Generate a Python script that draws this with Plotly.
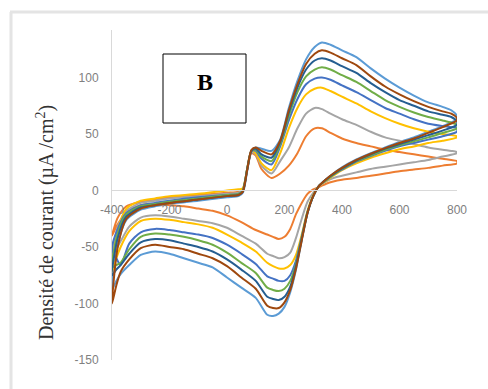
import plotly.graph_objects as go

# Potential grids (mV)
E_fwd = [-400, -380, -350, -300, -250, -200, -100, 0, 40, 55, 70, 85, 100, 120, 155, 185,
         215, 245, 275, 305, 330, 360, 400, 450, 500, 550, 600, 650, 700, 750, 780, 800]
E_rev = [800, 750, 700, 650, 600, 550, 500, 450, 400, 370, 345, 320, 300, 280, 260, 240, 220,
         200, 180, 160, 140, 100, 50, 0, -50, -100, -150, -200, -250, -300, -340, -370, -385, -400]

# Current density (µA/cm²), forward (anodic) sweep
fwd_lightblue = [-88, -48, -26, -17, -14, -12, -9, -6, -5, -2, 17, 35, 38, 37, 35, 45,
                 73, 97, 116, 127, 131, 129, 124, 118, 108, 99, 91, 84, 78, 74, 71, 66]
fwd_orange = [-40, -24, -14, -10, -8, -6, -4, -2, -1, 1, 18, 33, 31, 19, 11, 15,
              22, 33, 48, 55, 55, 51, 46, 42, 39, 36, 34, 32, 30, 28, 27, 26]
fwd_gray = [-60, -32, -18, -11, -9, -7, -5, -3, -2, 0, 18, 34, 32, 22, 15, 26,
            38, 55, 68, 73, 72, 68, 63, 58, 52, 47, 44, 41, 38, 36, 35, 34]
fwd_yellow = [-72, -35, -16, -9, -7, -5, -3, 0, 1, 2, 19, 35, 33, 24, 18, 33,
              55, 73, 85, 90, 91, 88, 83, 77, 70, 64, 59, 55, 52, 50, 49, 48]
fwd_blue = [-52, -34, -20, -13, -11, -9, -6, -4, -3, 0, 19, 35, 35, 28, 23, 39,
            62, 81, 94, 99, 100, 98, 93, 87, 80, 73, 68, 63, 59, 57, 56, 55]
fwd_green = [-68, -38, -21, -14, -12, -10, -7, -4, -3, 0, 19, 35, 36, 30, 26, 41,
             66, 87, 101, 107, 109, 107, 102, 96, 88, 80, 74, 69, 65, 62, 60, 58]
fwd_darkblue = [-75, -42, -23, -15, -13, -11, -8, -5, -4, -1, 18, 35, 37, 32, 29, 43,
                69, 91, 107, 115, 117, 115, 110, 104, 95, 87, 80, 75, 70, 67, 65, 61]
fwd_brown = [-100, -50, -25, -16, -13, -11, -8, -5, -4, -1, 18, 36, 38, 35, 32, 44,
             71, 94, 112, 121, 124, 122, 117, 111, 101, 92, 85, 79, 74, 70, 68, 64]

# Current density (µA/cm²), reverse (cathodic) sweep
rev_lightblue = [63, 57, 52, 47, 43, 38, 33, 27.5, 20.5, 15, 10, 4, -5, -20, -44, -70, -90,
                 -103, -109, -111, -110, -95, -86, -77, -68, -64, -60, -56, -54, -57, -66, -74, -80, -88]
rev_orange = [24, 22, 20, 18.5, 17, 15, 13, 11, 9.5, 8, 6, 3, 1, -3, -11, -21, -34,
              -41, -43, -41, -39, -35, -28, -22, -18, -16, -14, -13, -12, -13, -18, -26, -32, -40]
rev_gray = [33, 30, 27, 25, 23, 21, 19, 16, 13, 11, 8, 4, -2, -10, -25, -42, -55,
            -59, -60, -58, -56, -47, -40, -33, -29, -27, -25, -23, -22, -24, -32, -45, -52, -60]
rev_yellow = [47, 44, 42, 39, 36.5, 33, 29, 24, 18, 13, 8.5, 4, -4, -18, -39, -57, -66,
              -69, -69, -67, -64, -54, -46, -39, -33, -30, -28, -26, -25, -27, -36, -50, -60, -72]
rev_blue = [52, 48, 45, 42, 39, 35, 30.5, 25.5, 18.5, 14, 9, 4, -5, -19, -41, -62, -75,
            -80, -80, -78, -76, -65, -56, -48, -42, -39, -37, -35, -34, -37, -47, -66, -60, -52]
rev_green = [55, 51, 47, 43.5, 40, 36, 31, 26, 19, 14, 9.5, 4, -5, -19, -42, -65, -80,
             -87, -89, -88, -86, -73, -64, -55, -48, -44, -41, -39, -38, -41, -52, -64, -66, -68]
rev_darkblue = [58, 53, 49, 45, 41, 37, 32, 26.5, 19.5, 14.5, 10, 4, -5, -20, -43, -67, -85,
                -94, -97, -96, -94, -80, -70, -61, -54, -50, -47, -44, -43, -46, -56, -66, -70, -75]
rev_brown = [62, 56, 51, 46, 42, 37.5, 32.5, 27, 20, 15, 10, 4, -5, -20, -44, -69, -88,
             -99, -104, -104, -102, -87, -77, -67, -60, -56, -52, -50, -48, -51, -61, -72, -84, -100]

x_tick_vals = [-400, -200, 0, 200, 400, 600, 800]
x_tick_text = ["-400", "-200", "0", "200", "400", "600", "800"]
y_tick_vals = [-150, -100, -50, 0, 50, 100]
y_tick_text = ["-150", "-100", "-50", "0", "50", "100"]

series = [
    ("#5B9BD5", fwd_lightblue, rev_lightblue),
    ("#ED7D31", fwd_orange, rev_orange),
    ("#A5A5A5", fwd_gray, rev_gray),
    ("#FFC000", fwd_yellow, rev_yellow),
    ("#4472C4", fwd_blue, rev_blue),
    ("#70AD47", fwd_green, rev_green),
    ("#255E91", fwd_darkblue, rev_darkblue),
    ("#9E480E", fwd_brown, rev_brown),
]

Y_MIN, Y_MAX = -150, 142

fig = go.Figure()
for color, f, r in series:
    fig.add_trace(go.Scatter(
        x=E_fwd + E_rev, y=f + r, mode="lines",
        line=dict(color=color, width=2, shape="spline", smoothing=0.7),
        hoverinfo="skip",
    ))

tickfont = dict(family="Liberation Sans, Arial, sans-serif", size=12, color="#808080")

fig.update_layout(
    width=488, height=389,
    margin=dict(l=112, r=31, t=30, b=29),
    paper_bgcolor="white", plot_bgcolor="white",
    showlegend=False,
    xaxis=dict(
        range=[-400, 800], tickvals=x_tick_vals, ticktext=x_tick_text,
        showgrid=False, zeroline=False, showline=True, linecolor="#d9d9d9", linewidth=1,
        anchor="free", position=(0 - Y_MIN) / (Y_MAX - Y_MIN),
        ticks="", ticklabelstandoff=8, tickfont=tickfont,
    ),
    yaxis=dict(
        range=[Y_MIN, Y_MAX], tickvals=y_tick_vals, ticktext=y_tick_text,
        showgrid=False, zeroline=False, showline=True, linecolor="#d9d9d9", linewidth=1,
        ticks="", ticklabelstandoff=10, tickfont=tickfont,
    ),
)

# page frame shadow
px2x = lambda px: (px - 112) / 345
px2y = lambda py: (360 - py) / 330
shapes = [
    dict(type="line", xref="paper", yref="paper", x0=px2x(11), x1=px2x(11), y0=px2y(12), y1=px2y(395),
         line=dict(color="#e4e4e4", width=3)),
    dict(type="line", xref="paper", yref="paper", x0=px2x(10), x1=px2x(495), y0=px2y(12), y1=px2y(12),
         line=dict(color="#e4e4e4", width=3)),
    dict(type="rect", xref="paper", yref="paper", x0=px2x(163), x1=px2x(246), y0=px2y(123), y1=px2y(54),
         line=dict(color="black", width=1), fillcolor="white", layer="above"),
]
fig.update_layout(shapes=shapes)

fig.add_annotation(
    x=px2x(204.5), y=px2y(82), xref="paper", yref="paper", text="<b>B</b>", showarrow=False,
    xanchor="center", yanchor="middle",
    font=dict(family="Liberation Serif, Times New Roman, serif", size=24, color="black"),
)
fig.add_annotation(
    x=px2x(45), y=px2y(223), xref="paper", yref="paper",
    text="Densité de courant (µA /cm<sup>2</sup>)", textangle=-90, showarrow=False,
    xanchor="center", yanchor="middle",
    font=dict(family="Liberation Serif, Times New Roman, serif", size=20, color="#333333"),
)

fig.write_html("out.html")
